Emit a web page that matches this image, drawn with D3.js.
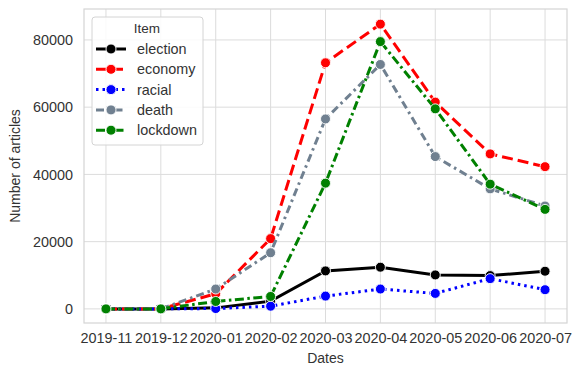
<!DOCTYPE html>
<html>
<head>
<meta charset="utf-8">
<script src="https://cdn.jsdelivr.net/npm/d3@7"></script>
<style>
  body { margin: 0; background: #fff; }
  text { font-family: "Liberation Sans", Arial, sans-serif; fill: #333; }
</style>
</head>
<body>
<div id="chart"></div>
<script>
const dates = ["2019-11", "2019-12", "2020-01", "2020-02", "2020-03", "2020-04", "2020-05", "2020-06", "2020-07"];
const election = [0, 0, 300, 2300, 11300, 12400, 10100, 9900, 11200];
const economy = [0, 0, 4500, 20900, 73200, 84700, 61500, 46100, 42300];
const racial = [0, 0, 100, 800, 3800, 5900, 4600, 9000, 5700];
const death = [0, 0, 5900, 16700, 56500, 72700, 45300, 35700, 30600];
const lockdown = [0, 0, 2200, 3700, 37400, 79500, 59500, 37100, 29600];
const yTicks = [0, 20000, 40000, 60000, 80000];

const series = [
  { name: "election", values: election, color: "#000000", dash: null },
  { name: "economy", values: economy, color: "#ff0000", dash: "11,5" },
  { name: "racial", values: racial, color: "#0000ff", dash: "2.5,4" },
  { name: "death", values: death, color: "#708090", dash: "8,4,2.5,4" },
  { name: "lockdown", values: lockdown, color: "#008000", dash: "9,3.5,2.5,3.5" }
];

const W = 574, H = 365;
const margin = { top: 9, right: 7, bottom: 42, left: 84 };
const width = W - margin.left - margin.right,
      height = H - margin.top - margin.bottom;

const svg = d3.select("#chart").append("svg")
  .attr("width", W).attr("height", H)
  .append("g")
  .attr("transform", `translate(${margin.left},${margin.top})`);

const x = d3.scaleLinear().domain([-0.4, dates.length - 1 + 0.4]).range([0, width]);
const y = d3.scaleLinear().domain([-4200, 89200]).range([height, 0]);

// grid
svg.append("g").selectAll("line.vg").data(dates).enter().append("line")
  .attr("x1", (d, i) => x(i)).attr("x2", (d, i) => x(i))
  .attr("y1", 0).attr("y2", height)
  .attr("stroke", "#dcdcdc").attr("stroke-width", 1);
svg.append("g").selectAll("line.hg").data(yTicks).enter().append("line")
  .attr("x1", 0).attr("x2", width)
  .attr("y1", d => y(d)).attr("y2", d => y(d))
  .attr("stroke", "#dcdcdc").attr("stroke-width", 1);
svg.append("rect").attr("width", width).attr("height", height)
  .attr("fill", "none").attr("stroke", "#d4d4d4").attr("stroke-width", 1.2);

// axes
const xAxis = svg.append("g")
  .attr("transform", `translate(0,${height})`)
  .call(d3.axisBottom(x).tickValues(d3.range(dates.length)).tickFormat(i => dates[i]).tickSize(0).tickPadding(10));
const yAxis = svg.append("g")
  .call(d3.axisLeft(y).tickValues(yTicks).tickFormat(d3.format("d")).tickSize(0).tickPadding(11));
[xAxis, yAxis].forEach(a => {
  a.select(".domain").remove();
  a.selectAll("text").style("font-size", "14.4px").attr("fill", "#333")
    .style("font-family", "'Liberation Sans', Arial, sans-serif");
});

svg.append("text").attr("x", width / 2).attr("y", height + 40)
  .attr("text-anchor", "middle").style("font-size", "14px").text("Dates");
svg.append("text").attr("transform", `translate(${-64},${height / 2}) rotate(-90)`)
  .attr("text-anchor", "middle").style("font-size", "14px").text("Number of articles");

// lines
const line = d3.line().x((d, i) => x(i)).y(d => y(d));
series.forEach(s => {
  svg.append("path").datum(s.values)
    .attr("fill", "none").attr("stroke", s.color).attr("stroke-width", 3)
    .attr("stroke-dasharray", s.dash)
    .attr("d", line);
  svg.append("g").selectAll("circle").data(s.values).enter().append("circle")
    .attr("cx", (d, i) => x(i)).attr("cy", d => y(d)).attr("r", 5)
    .attr("fill", s.color).attr("stroke", "#fff").attr("stroke-width", 0.9);
});

// legend
const lg = svg.append("g").attr("transform", "translate(8,8)");
lg.append("rect").attr("width", 111).attr("height", 128).attr("rx", 3)
  .attr("fill", "#fff").attr("fill-opacity", 0.85)
  .attr("stroke", "#d4d4d4");
lg.append("text").attr("x", 55).attr("y", 16).attr("text-anchor", "middle")
  .style("font-size", "13.5px").text("Item");
series.forEach((s, i) => {
  const yy = 32 + i * 20.3;
  lg.append("line").attr("x1", 4).attr("x2", 34).attr("y1", yy).attr("y2", yy)
    .attr("stroke", s.color).attr("stroke-width", 3).attr("stroke-dasharray", s.dash);
  lg.append("circle").attr("cx", 19).attr("cy", yy).attr("r", 5)
    .attr("fill", s.color).attr("stroke", "#fff").attr("stroke-width", 0.9);
  lg.append("text").attr("x", 45).attr("y", yy + 5).style("font-size", "14.4px").text(s.name);
});
</script>
</body>
</html>
